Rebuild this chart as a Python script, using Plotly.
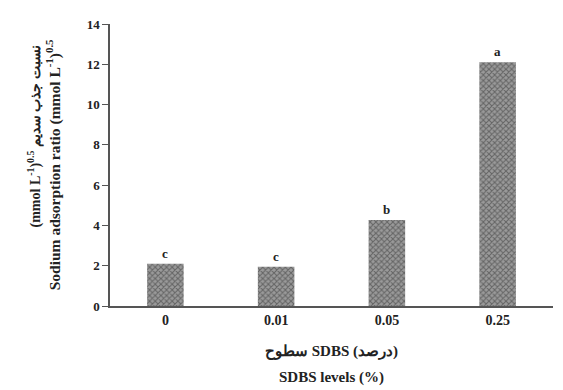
import plotly.graph_objects as go

categories = ["0", "0.01", "0.05", "0.25"]
values = [2.1, 1.95, 4.27, 12.1]
letters = ["c", "c", "b", "a"]
y_ticks = [0, 2, 4, 6, 8, 10, 12, 14]

font_family = "Liberation Serif, Times New Roman, serif"
LRM = "\u200e"

fig = go.Figure()
fig.add_trace(go.Bar(
    x=categories, y=values, width=0.33,
    marker=dict(color="#8c8c8c", line=dict(width=0),
                pattern=dict(shape="x", fgcolor="#2e2e2e", bgcolor="#9a9a9a", size=4, solidity=0.45)),
    showlegend=False,
))

for i, (v, t) in enumerate(zip(values, letters)):
    fig.add_annotation(x=i, y=v, text=t, showarrow=False, yanchor="bottom", yshift=1,
                       font=dict(family=font_family, size=13, color="#222", weight="bold"))

fig.update_layout(
    width=555, height=382,
    margin=dict(l=102, r=10, t=16, b=84),
    paper_bgcolor="white", plot_bgcolor="white",
    font=dict(family=font_family, color="#222"),
    xaxis=dict(type="category", showline=True, linecolor="#555", linewidth=1.5,
               ticks="", showgrid=False, zeroline=False,
               tickfont=dict(family=font_family, size=14, color="#222", weight="bold")),
    yaxis=dict(range=[0, 14], tickvals=y_ticks, showline=True, linecolor="#555", linewidth=1.5,
               ticks="outside", ticklen=6, tickcolor="#555", showgrid=False, zeroline=False,
               tickfont=dict(family=font_family, size=13, color="#222", weight="bold")),
)

fig.add_annotation(xref="paper", yref="paper", x=0.5, y=-0.163, yanchor="middle",
                   text=LRM + "سطوح SDBS (درصد)", showarrow=False,
                   font=dict(family=font_family, size=15, color="#222", weight="bold"))
fig.add_annotation(xref="paper", yref="paper", x=0.5, y=-0.255, yanchor="middle",
                   text="SDBS levels (%)", showarrow=False,
                   font=dict(family=font_family, size=15, color="#222", weight="bold"))
fig.add_annotation(xref="paper", yref="paper", x=-0.17, xanchor="center", y=0.6, yanchor="middle",
                   text=LRM + "(mmol L<sup>-1</sup>)<sup>0.5</sup> نسبت جذب سدیم", showarrow=False, textangle=-90,
                   font=dict(family=font_family, size=14, color="#222", weight="bold"))
fig.add_annotation(xref="paper", yref="paper", x=-0.128, xanchor="center", y=0.5, yanchor="middle",
                   text="Sodium adsorption ratio (mmol L<sup>-1</sup>)<sup>0.5</sup>", showarrow=False, textangle=-90,
                   font=dict(family=font_family, size=15.5, color="#222", weight="bold"))

fig.write_html("out.html")
